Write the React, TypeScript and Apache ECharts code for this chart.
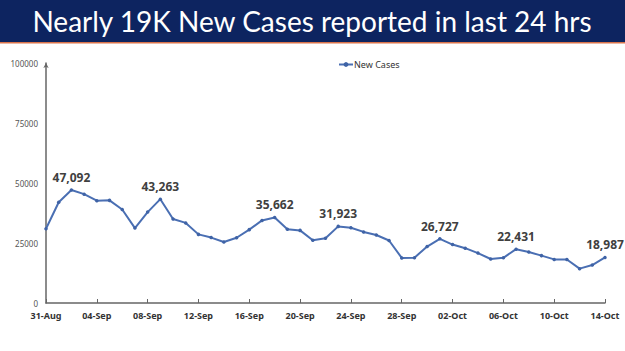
import React, { useEffect, useRef } from "react";
import * as echarts from "echarts";

const dates = [
  "31-Aug", "01-Sep", "02-Sep", "03-Sep", "04-Sep", "05-Sep", "06-Sep", "07-Sep", "08-Sep", "09-Sep",
  "10-Sep", "11-Sep", "12-Sep", "13-Sep", "14-Sep", "15-Sep", "16-Sep", "17-Sep", "18-Sep", "19-Sep",
  "20-Sep", "21-Sep", "22-Sep", "23-Sep", "24-Sep", "25-Sep", "26-Sep", "27-Sep", "28-Sep", "29-Sep",
  "30-Sep", "01-Oct", "02-Oct", "03-Oct", "04-Oct", "05-Oct", "06-Oct", "07-Oct", "08-Oct", "09-Oct",
  "10-Oct", "11-Oct", "12-Oct", "13-Oct", "14-Oct",
];

const newCases = [
  30941, 41965, 47092, 45352, 42618, 42766, 38948, 31222, 37875, 43263,
  34973, 33376, 28591, 27254, 25404, 27176, 30570, 34403, 35662, 30773,
  30256, 26115, 26964, 31923, 31382, 29616, 28326, 26041, 18795, 18870,
  23529, 26727, 24354, 22842, 20799, 18346, 18833, 22431, 21257, 19740,
  18166, 18132, 14313, 15823, 18987,
];

const labelledIndices = [2, 9, 18, 23, 31, 37, 44];

const titleText = "Nearly 19K New Cases reported in last 24 hrs";
const seriesName = "New Cases";

export default function App() {
  const ref = useRef<HTMLDivElement>(null);
  useEffect(() => {
    if (!ref.current) return;
    const chart = echarts.init(ref.current, null, { renderer: "svg" });
    const data = newCases.map((v, i) => ({
      value: v,
      label: { show: labelledIndices.includes(i) },
    }));
    chart.setOption({
      animation: false,
      backgroundColor: "#ffffff",
      graphic: [
        { type: "rect", shape: { x: 0, y: 0, width: 625, height: 42 }, style: { fill: "#0d2460" }, z: 10 },
        { type: "rect", shape: { x: 0, y: 42, width: 625, height: 1.5 }, style: { fill: "#d9734a" }, z: 10 },
        {
          type: "text",
          x: 312,
          y: 21,
          z: 11,
          style: {
            text: titleText,
            fill: "#ffffff",
            font: "28px Lato",
            align: "center",
            verticalAlign: "middle",
          },
        },
      ],
      legend: {
        data: [seriesName],
        top: 55,
        left: 333,
        itemWidth: 14,
        itemHeight: 6,
        itemGap: 2,
        textStyle: { fontSize: 9, color: "#333", fontFamily: "Noto Sans", padding: [0, 0, 0, -4] },
      },
      grid: { left: 46, right: 20, top: 63, bottom: 48 },
      xAxis: {
        type: "category",
        data: dates,
        boundaryGap: false,
        axisLine: { lineStyle: { color: "#666", width: 1.5 } },
        axisTick: { interval: 3, inside: true, length: 4, lineStyle: { color: "#666" } },
        axisLabel: {
          interval: 3,
          fontSize: 9,
          fontWeight: "bold",
          color: "#333",
          fontFamily: "Noto Sans",
          margin: 8,
        },
      },
      yAxis: {
        type: "value",
        min: 0,
        max: 100000,
        interval: 25000,
        splitLine: { show: false },
        axisLine: {
          show: true,
          symbol: ["none", "arrow"],
          symbolSize: [4, 5],
          lineStyle: { color: "#666", width: 1.5 },
        },
        axisTick: { show: false },
        axisLabel: {
          fontSize: 8,
          color: "#555",
          fontFamily: "Noto Sans",
          margin: 8,
          formatter: (v: number) => String(v),
        },
      },
      series: [
        {
          name: seriesName,
          type: "line",
          data,
          symbol: "circle",
          symbolSize: 3.5,
          itemStyle: { color: "#3f63a6" },
          lineStyle: { color: "#4a6fb3", width: 2 },
          label: {
            position: "top",
            distance: 5,
            fontSize: 12,
            fontWeight: "bold",
            color: "#404040",
            fontFamily: "Noto Sans",
            formatter: (p: any) => Number(p.value).toLocaleString("en-US"),
          },
        },
      ],
    });
    return () => chart.dispose();
  }, []);
  return <div ref={ref} style={{ width: 625, height: 351, position: "fixed", left: 0, top: 0 }} />;
}
